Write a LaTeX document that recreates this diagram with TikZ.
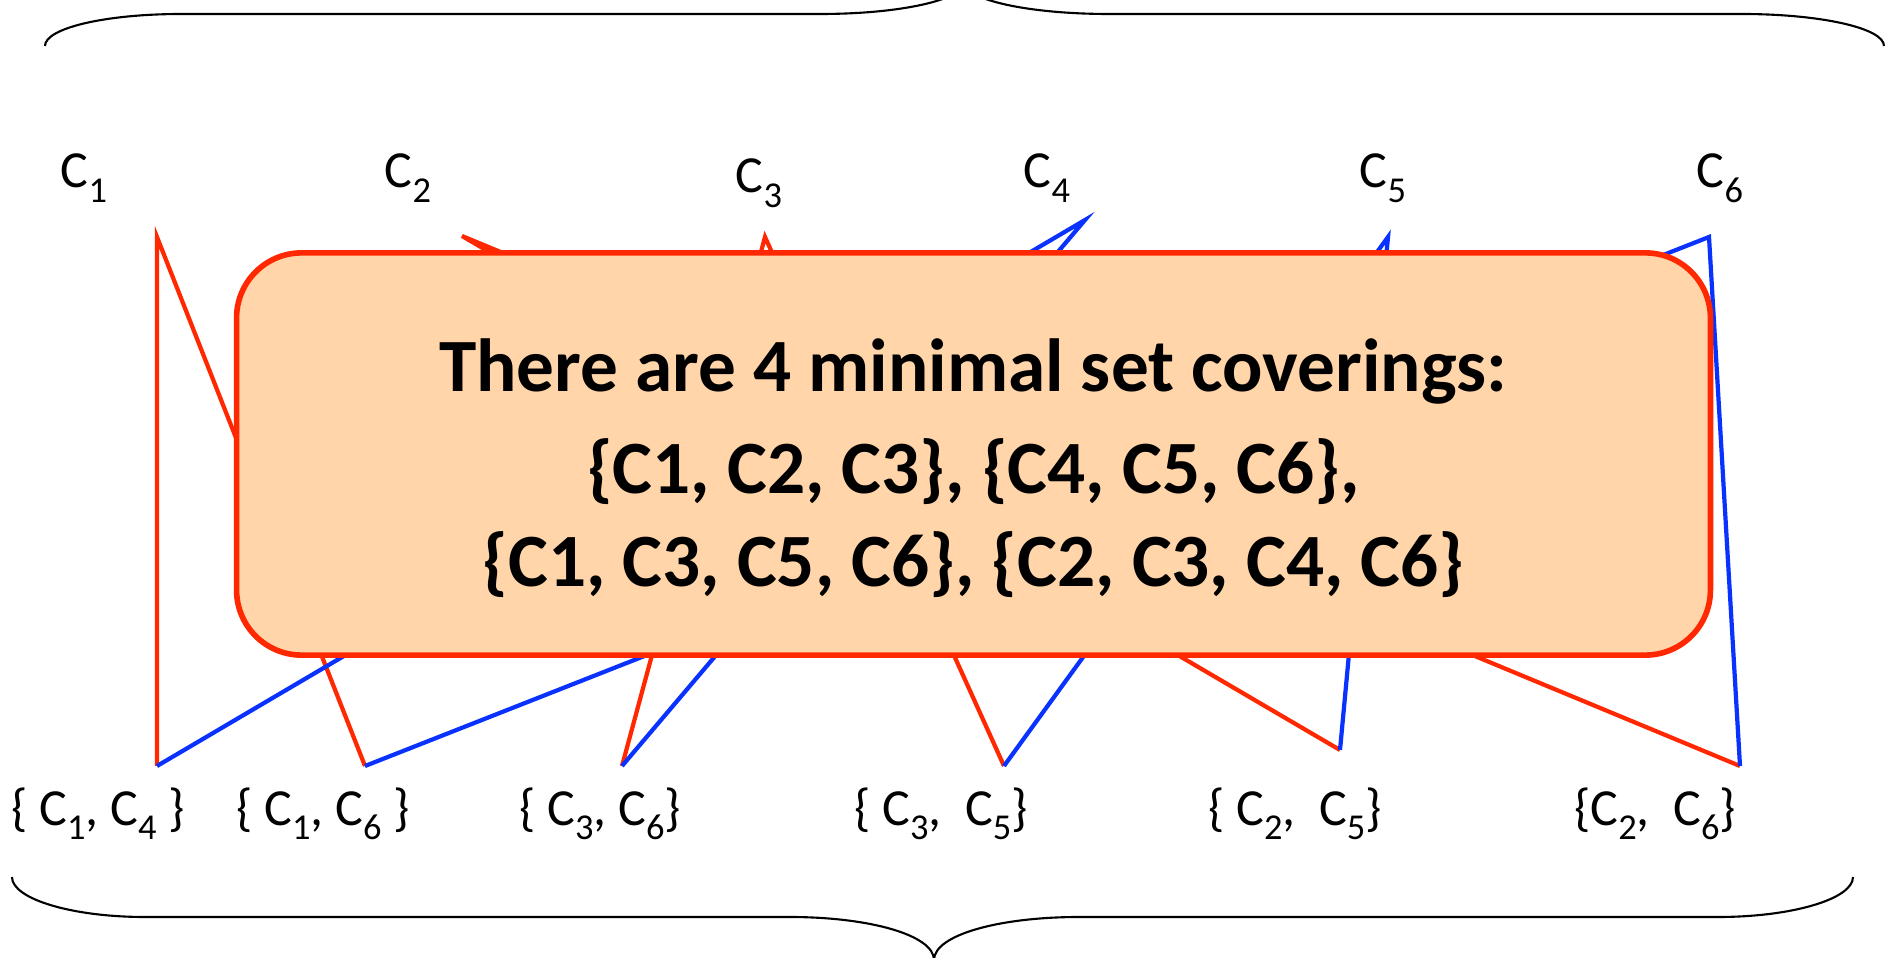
\documentclass[tikz,border=0pt]{standalone}
\usepackage{fontspec}
\setmainfont{Carlito}
\usepackage{tikz}
\usetikzlibrary{positioning}
\definecolor{setred}{HTML}{FF2800}
\definecolor{setblue}{HTML}{0A32FF}
\definecolor{notefill}{HTML}{FFD5A9}
\newcommand{\subidx}[1]{\raisebox{-0.27em}{\scalebox{0.7}{#1}}}

\begin{document}
\begin{tikzpicture}[x=0.01cm, y=-0.01cm,
    lbl/.style={font=\fontsize{14.8}{17}\selectfont, inner sep=0pt, anchor=base},
    redline/.style={setred, line width=1.2pt},
    blueline/.style={setblue, line width=1.2pt},
    brace/.style={black, line width=0.6pt},
    notebox/.style={draw=setred, fill=notefill, line width=1.6pt, rounded corners=0.65cm,
        minimum width=14.73cm, minimum height=4.02cm, align=center,
        font=\bfseries\fontsize{21.4}{26.3}\selectfont}]
    \useasboundingbox (0,0) rectangle (1890,958);
    \clip (0,0) rectangle (1890,958);

    % Braces
    \draw[brace] (45,46) .. controls (45,28) and (106,14) .. (181,14) -- (820,14)
        .. controls (900,14) and (964,0) .. (964,-18)
        .. controls (964,0) and (1029,14) .. (1109,14) -- (1742,14)
        .. controls (1820,14) and (1884,28) .. (1884,46);
    \draw[brace] (12,877) .. controls (12,899) and (72,917) .. (145,917) -- (790,917)
        .. controls (869,917) and (934,935) .. (934,960)
        .. controls (934,935) and (999,917) .. (1079,917) -- (1718,917)
        .. controls (1792,917) and (1853,899) .. (1853,877);

    % Columns
    \node[lbl] (c1) at (84,188) {C\subidx{1}};
    \node[lbl] (c2) at (408,188) {C\subidx{2}};
    \node[lbl] (c3) at (759,193) {C\subidx{3}};
    \node[lbl] (c4) at (1047,188) {C\subidx{4}};
    \node[lbl] (c5) at (1383,188) {C\subidx{5}};
    \node[lbl] (c6) at (1720,188) {C\subidx{6}};

    % Sets
    \node[lbl] (s14) at (98,825) {\{ C\subidx{1}, C\subidx{4} \}};
    \node[lbl] (s16) at (323,825) {\{ C\subidx{1}, C\subidx{6} \}};
    \node[lbl] (s36) at (600,825) {\{ C\subidx{3}, C\subidx{6}\}};
    \node[lbl] (s35) at (941,825) {\{ C\subidx{3},\ \ C\subidx{5}\}};
    \node[lbl] (s25) at (1295,825) {\{ C\subidx{2},\ \ C\subidx{5}\}};
    \node[lbl] (s26) at (1655,825) {\{C\subidx{2},\ \ C\subidx{6}\}};

    % Line ends
    \coordinate (t1) at (157,237);
    \coordinate (t2) at (462,236);
    \coordinate (t3) at (765,237);
    \coordinate (t4) at (1085,220);
    \coordinate (t5) at (1388,237);
    \coordinate (t6) at (1709,237);
    \coordinate (b1) at (157,766);
    \coordinate (b2) at (365,766);
    \coordinate (b3) at (622,766);
    \coordinate (b4) at (1004,766);
    \coordinate (b5) at (1340,750);
    \coordinate (b6) at (1740,766);

    % Edges
    \draw[redline] (b1) -- (t1) -- (b2);
    \draw[redline] (b3) -- (t3) -- (b4);
    \draw[redline] (b5) -- (t2) -- (b6);
    \draw[blueline] (b1) -- (t4) -- (b3);
    \draw[blueline] (b4) -- (t5) -- (b5);
    \draw[blueline] (b2) -- (t6) -- (b6);

    % Result
    \node[notebox] (summary) at (973.5,454) {\rule{0pt}{23pt}There are 4 minimal set coverings:\\[2.7pt]
        \{C1, C2, C3\}, \{C4, C5, C6\},\\
        \{C1, C3, C5, C6\}, \{C2, C3, C4, C6\}};
\end{tikzpicture}
\end{document}
